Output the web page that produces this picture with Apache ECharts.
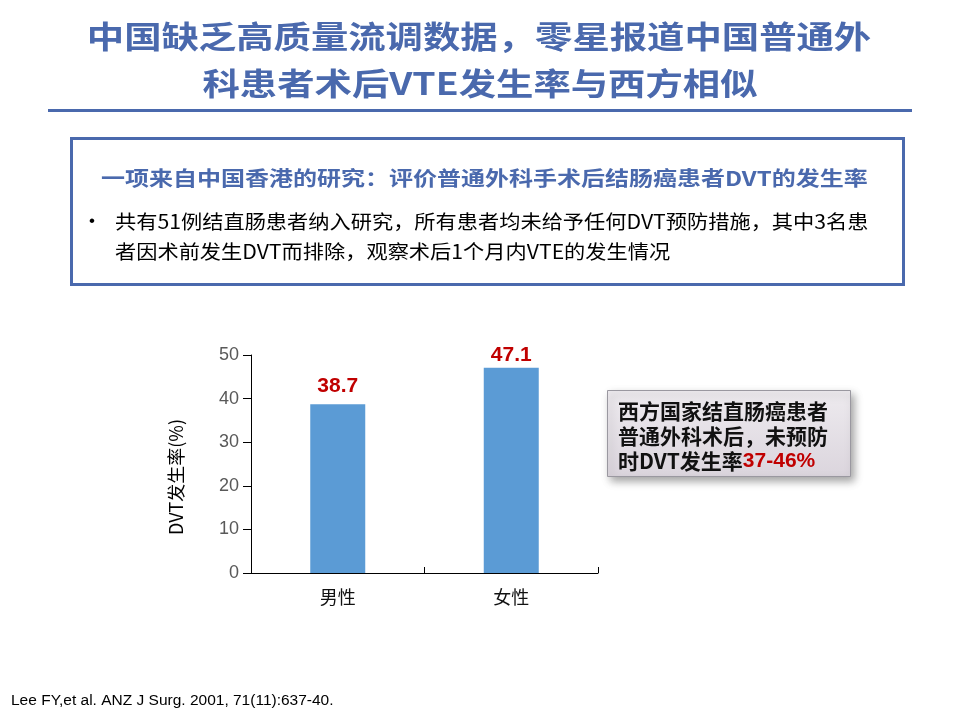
<!DOCTYPE html>
<html><head><meta charset="utf-8">
<script src="https://cdn.jsdelivr.net/npm/echarts@6/dist/echarts.min.js"></script>
<style>html,body{margin:0;padding:0;background:#fff}#c{width:960px;height:720px}</style>
</head><body><div id="c"></div>
<script>
const categories = ['男性', '女性'];
const rates = [38.7, 47.1];
const yTicks = [0, 10, 20, 30, 40, 50];

const titleLines = ['中国缺乏高质量流调数据，零星报道中国普通外', '科患者术后VTE发生率与西方相似'];
const boxHeading = '一项来自中国香港的研究：评价普通外科手术后结肠癌患者DVT的发生率';
const bulletLines = ['共有51例结直肠患者纳入研究，所有患者均未给予任何DVT预防措施，其中3名患', '者因术前发生DVT而排除，观察术后1个月内VTE的发生情况'];
const calloutLines = ['西方国家结直肠癌患者', '普通外科术后，未预防'];
const calloutLast = ['时DVT发生率', '37-46%'];
const footnote = 'Lee FY,et al. ANZ J Surg. 2001, 71(11):637-40.';

const FONT = '"Noto Sans CJK SC", "Liberation Sans", Arial, sans-serif';
const LATIN = '"Liberation Sans", Arial, sans-serif';
const BLUE = '#4a69ad';
const labelGaps = [8, 2];

const chart = echarts.init(document.getElementById('c'));
chart.setOption({
  backgroundColor: '#fff',
  animation: false,
  textStyle: { fontFamily: FONT },
  grid: { left: 251, right: 362, top: 355, bottom: 147 },
  xAxis: {
    type: 'category',
    data: categories,
    axisLine: { lineStyle: { color: '#000', width: 1 } },
    axisTick: { show: true, length: 6, inside: true, lineStyle: { color: '#000' } },
    axisLabel: { color: '#111', fontSize: 18, margin: 15, fontFamily: FONT }
  },
  yAxis: {
    type: 'value',
    min: yTicks[0], max: yTicks[yTicks.length - 1], interval: 10,
    name: 'DVT发生率(%)',
    nameLocation: 'middle',
    nameGap: 66,
    nameTextStyle: { color: '#000', fontSize: 18, fontFamily: FONT, padding: [0, 26, 0, 0] },
    axisLine: { show: true, lineStyle: { color: '#000', width: 1 } },
    axisTick: { show: true, length: 8, lineStyle: { color: '#000' } },
    axisLabel: { color: '#595959', fontSize: 18, margin: 12, fontFamily: LATIN },
    splitLine: { show: false }
  },
  series: [{
    type: 'bar',
    data: rates.map((v, i) => ({ value: v, label: { distance: labelGaps[i] } })),
    barWidth: 55,
    itemStyle: { color: '#5b9bd5' },
    label: {
      show: true, position: 'top',
      color: '#c00000', fontWeight: 'bold', fontSize: 21,
      fontFamily: LATIN,
      formatter: p => p.value.toFixed(1)
    }
  }],
  graphic: [
    { type: 'text', x: 479, y: 36, scaleX: 1.205, style: { text: titleLines[0], fill: BLUE, font: 'bold 31px ' + FONT, textAlign: 'center', textVerticalAlign: 'middle' } },
    { type: 'text', x: 480, y: 83, scaleX: 1.205, style: { text: titleLines[1], fill: BLUE, font: 'bold 31px ' + FONT, textAlign: 'center', textVerticalAlign: 'middle' } },
    { type: 'rect', shape: { x: 48, y: 109, width: 864, height: 3 }, style: { fill: BLUE } },
    { type: 'rect', shape: { x: 71.5, y: 138.5, width: 832, height: 146 }, style: { fill: '#fff', stroke: BLUE, lineWidth: 3 } },
    { type: 'text', x: 101, y: 178, scaleX: 1.2, style: { text: boxHeading, fill: BLUE, font: 'bold 20px ' + FONT, textAlign: 'left', textVerticalAlign: 'middle' } },
    { type: 'text', x: 92, y: 221, style: { text: '•', fill: '#000', font: '17px ' + LATIN, textAlign: 'center', textVerticalAlign: 'middle' } },
    { type: 'text', x: 115, y: 222, scaleX: 1.088, style: { text: bulletLines[0], fill: '#000', font: '19.5px ' + FONT, textAlign: 'left', textVerticalAlign: 'middle' } },
    { type: 'text', x: 115, y: 252, scaleX: 1.088, style: { text: bulletLines[1], fill: '#000', font: '19.5px ' + FONT, textAlign: 'left', textVerticalAlign: 'middle' } },
    { type: 'rect', shape: { x: 607.5, y: 390.5, width: 243, height: 86 },
      style: { fill: { type: 'linear', x: 0, y: 0, x2: 0, y2: 1, colorStops: [{ offset: 0, color: '#eeebef' }, { offset: 1, color: '#dbd5dd' }] },
        stroke: '#9a98a0', lineWidth: 1, shadowBlur: 8, shadowOffsetX: 3, shadowOffsetY: 4, shadowColor: 'rgba(0,0,0,0.35)' } },
    { type: 'text', x: 618, y: 411, style: { text: calloutLines[0], fill: '#111', font: 'bold 21px ' + FONT, textVerticalAlign: 'middle' } },
    { type: 'text', x: 618, y: 436, style: { text: calloutLines[1], fill: '#111', font: 'bold 21px ' + FONT, textVerticalAlign: 'middle' } },
    { type: 'text', x: 618, y: 461, style: {
      rich: {
        a: { fill: '#111', font: 'bold 21px ' + FONT },
        b: { fill: '#c00000', font: 'bold 21px ' + LATIN }
      },
      text: '{a|' + calloutLast[0] + '}{b|' + calloutLast[1] + '}',
      textVerticalAlign: 'middle'
    } },
    { type: 'text', x: 11, y: 701, style: { text: footnote, fill: '#000', font: '15.5px ' + LATIN, textVerticalAlign: 'middle' } }
  ]
});
</script>
</body></html>
